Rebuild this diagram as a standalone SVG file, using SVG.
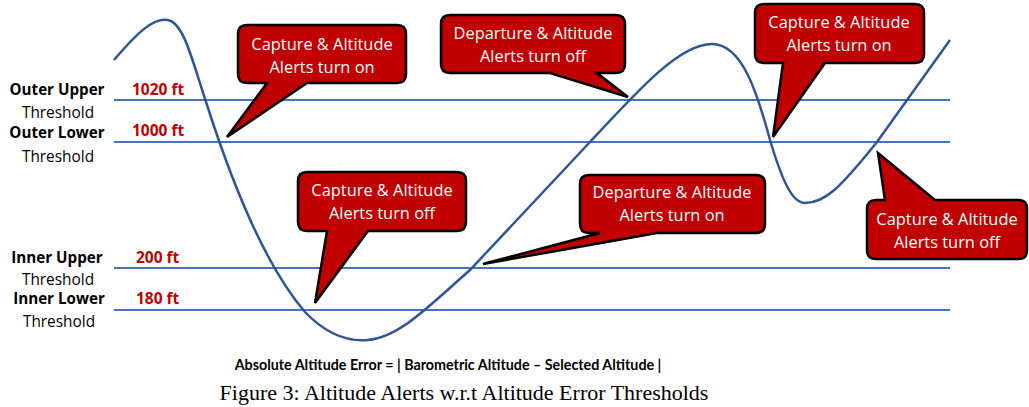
<svg xmlns="http://www.w3.org/2000/svg" width="1029" height="407" viewBox="0 0 1029 407">
<style>
.thr{stroke:#4472c4;stroke-width:2;fill:none}
.curve{stroke:#2f5597;stroke-width:2.5;fill:none}
.call{fill:#c00000;stroke:#000;stroke-width:2.5;stroke-linejoin:miter}
.ct{fill:#fff;font-family:"Open Sans","Liberation Sans",sans-serif;font-size:16.4px;text-anchor:middle}
.lb{fill:#000;font-family:"Open Sans","Liberation Sans",sans-serif;font-size:15.2px;font-weight:bold;text-anchor:middle}
.lr{fill:#000;font-family:"Open Sans","Liberation Sans",sans-serif;font-size:15.4px;text-anchor:middle}
.val{fill:#c00000;font-family:"Open Sans","Liberation Sans",sans-serif;font-size:15.5px;font-weight:bold}
</style>
<rect width="1029" height="407" fill="#fff"/>
<g id="thresholds">
<line class="thr" x1="114" y1="100" x2="950" y2="100"/>
<line class="thr" x1="114" y1="142" x2="950" y2="142"/>
<line class="thr" x1="114" y1="268" x2="950" y2="268"/>
<line class="thr" x1="114" y1="310" x2="950" y2="310"/>
</g>
<g id="labels">
<text class="lb" x="57" y="95">Outer Upper</text>
<text class="lr" x="58" y="118">Threshold</text>
<text class="lb" x="57" y="138">Outer Lower</text>
<text class="lr" x="58" y="162">Threshold</text>
<text class="lb" x="57" y="263">Inner Upper</text>
<text class="lr" x="58" y="285">Threshold</text>
<text class="lb" x="59" y="304">Inner Lower</text>
<text class="lr" x="59" y="327">Threshold</text>
<text class="val" x="132" y="95">1020 ft</text>
<text class="val" x="132" y="136">1000 ft</text>
<text class="val" x="136" y="263">200 ft</text>
<text class="val" x="136" y="304">180 ft</text>
</g>
<g id="connectors">
<path class="curve" d="M114,60 C138,32 154,17 168,20 C184,23 192,60 208,108 C228,170 262,262 305,312 C325,333 345,342 368,340 C400,337 430,305 470,270 L590,142 C640,88 680,44 712,44 C742,44 757,92 770,140 C782,180 792,203 805,203 C825,203 840,188 877,142 L950,40"/>
</g>
<g id="callout1">
<path class="call" d="M247,25 H397 Q406,25 406,34 V74 Q406,83 397,83 H307 L227,137 L267,83 H247 Q238,83 238,74 V34 Q238,25 247,25 Z"/>
<text class="ct" x="322" y="50">Capture &amp; Altitude</text>
<text class="ct" x="322" y="73">Alerts turn on</text>
</g>
<g id="callout2">
<path class="call" d="M450,15 H616 Q625,15 625,24 V64 Q625,73 616,73 H597 L628,97 L550,73 H450 Q441,73 441,64 V24 Q441,15 450,15 Z"/>
<text class="ct" x="533" y="39">Departure &amp; Altitude</text>
<text class="ct" x="533" y="62">Alerts turn off</text>
</g>
<g id="callout3">
<path class="call" d="M764,4 H915 Q924,4 924,13 V54 Q924,63 915,63 H825 L773,137 L783,63 H764 Q755,63 755,54 V13 Q755,4 764,4 Z"/>
<text class="ct" x="839" y="28">Capture &amp; Altitude</text>
<text class="ct" x="839" y="51">Alerts turn on</text>
</g>
<g id="callout4">
<path class="call" d="M307,172 H457 Q466,172 466,181 V222 Q466,231 457,231 H368 L315,303 L327,231 H307 Q298,231 298,222 V181 Q298,172 307,172 Z"/>
<text class="ct" x="382" y="196">Capture &amp; Altitude</text>
<text class="ct" x="382" y="219">Alerts turn off</text>
</g>
<g id="callout5">
<path class="call" d="M589,175 H756 Q765,175 765,184 V224 Q765,233 756,233 H657 L483,264 L600,233 H589 Q580,233 580,224 V184 Q580,175 589,175 Z"/>
<text class="ct" x="672" y="198">Departure &amp; Altitude</text>
<text class="ct" x="672" y="221">Alerts turn on</text>
</g>
<g id="callout6">
<path class="call" d="M876,200 H885 L878,153 L935,200 H1019 Q1027,200 1027,209 V250 Q1027,259 1019,259 H876 Q867,259 867,250 V209 Q867,200 876,200 Z"/>
<text class="ct" x="947" y="225">Capture &amp; Altitude</text>
<text class="ct" x="947" y="248">Alerts turn off</text>
</g>
<g id="caption">
<text x="448" y="370" style="font-family:Lato,'Liberation Sans',sans-serif;font-size:14.3px;font-weight:bold;text-anchor:middle">Absolute Altitude Error = | Barometric Altitude – Selected Altitude |</text>
<text x="464" y="400" style="font-family:'Liberation Serif',serif;font-size:22px;text-anchor:middle">Figure 3: Altitude Alerts w.r.t Altitude Error Thresholds</text>
</g>
</svg>
